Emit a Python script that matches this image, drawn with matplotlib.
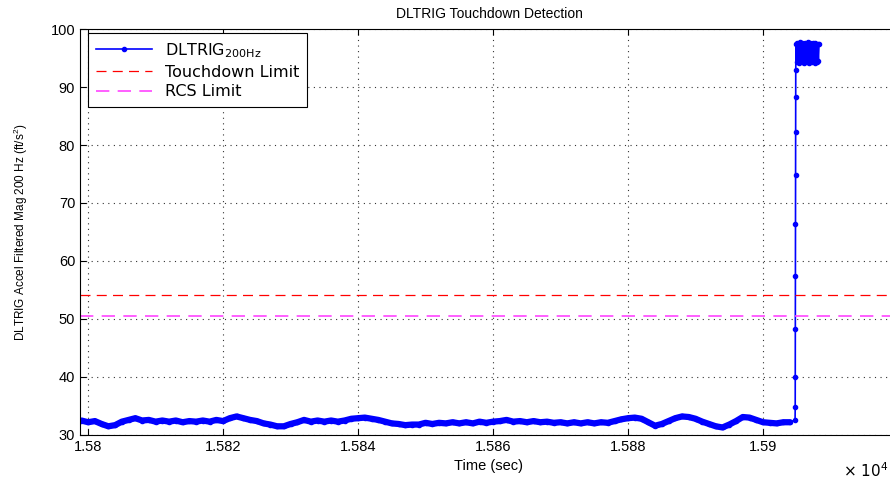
import matplotlib
matplotlib.use('Agg')
import matplotlib.pyplot as plt
import numpy as np
from matplotlib.ticker import FuncFormatter

plt.rcParams['font.family'] = ['Liberation Sans', 'DejaVu Sans']
plt.rcParams['font.size'] = 10

# DLTRIG 200 Hz filtered accel magnitude
base_time = np.arange(15799, 15905)
base_vals = [32.5, 32.2, 32.4, 31.9, 31.5, 31.7, 32.3, 32.6, 32.9, 32.5,
             32.6, 32.3, 32.5, 32.3, 32.5, 32.2, 32.4, 32.3, 32.5, 32.3,
             32.6, 32.4, 32.9, 33.2, 32.9, 32.6, 32.4, 32.0, 31.8, 31.5,
             31.5, 31.9, 32.2, 32.6, 32.3, 32.5, 32.3, 32.5, 32.3, 32.5,
             32.8, 32.9, 33.0, 32.8, 32.6, 32.3, 32.0, 31.9, 31.7, 31.8,
             31.8, 32.1, 31.9, 32.1, 32.0, 32.2, 32.0, 32.2, 32.0, 32.3,
             32.1, 32.3, 32.4, 32.6, 32.3, 32.4, 32.2, 32.4, 32.2, 32.3,
             32.1, 32.2, 32.0, 32.2, 32.0, 32.2, 32.0, 32.2, 32.1, 32.4,
             32.7, 32.9, 33.0, 32.8, 32.2, 31.6, 31.9, 32.4, 32.9, 33.2,
             33.1, 32.8, 32.3, 31.9, 31.5, 31.3, 31.8, 32.4, 33.1, 33.0,
             32.6, 32.2, 32.1, 32.0, 32.2, 32.2]

spike_time = [15904.75, 15904.77, 15904.78, 15904.79, 15904.80,
              15904.81, 15904.82, 15904.83, 15904.84, 15904.85]
spike_vals = [32.6, 34.8, 40.0, 48.3, 57.4, 66.4, 74.8, 82.2, 88.3, 93.0]

block_vals = [97.5, 94.3, 97.6, 94.4, 97.4, 94.2, 97.7, 94.5, 97.5, 94.3,
              97.6, 94.4, 97.3, 94.2, 97.6, 94.5, 97.5, 94.3, 97.7, 94.4,
              97.4, 94.2, 97.6, 94.5, 97.5, 94.3, 97.6, 94.4, 97.3, 94.2,
              97.6, 94.5, 97.5, 94.3, 97.4, 94.4, 97.5]
block_time = np.linspace(15904.9, 15908.3, len(block_vals))

touchdown_limit = 54.1
rcs_limit = 50.5

t = np.concatenate([base_time, spike_time, block_time])
v = np.concatenate([base_vals, spike_vals, block_vals])

fig = plt.figure(figsize=(8.9, 4.83), dpi=100)
ax = fig.add_axes([80 / 890, 48 / 483, 818 / 890, 406 / 483])

ax.plot(t, v, color='#0000ff', marker='.', markersize=6, linewidth=1.2,
        label='DLTRIG$_{\\mathregular{200Hz}}$')
# dense 200 Hz samples make the quiet part look like a thick band
ax.plot(base_time, base_vals, color='#0000ff', linewidth=4.5,
        solid_capstyle='round', solid_joinstyle='round')
ax.axhline(touchdown_limit, color='#ff0000', linestyle='--', dashes=(8, 5),
           linewidth=0.9, label='Touchdown Limit')
ax.axhline(rcs_limit, color='#ff44ff', linestyle='--', dashes=(8, 5),
           linewidth=1.2, label='RCS Limit')

ax.set_xlim(15798.8, 15920)
ax.set_ylim(30, 100)
ax.set_xticks(np.arange(15800, 15901, 20))
ax.set_yticks(np.arange(30, 101, 10))
ax.xaxis.set_major_formatter(FuncFormatter(lambda x, p: f'{x / 1e4:g}'))
ax.tick_params(direction='in', top=True, right=True, length=4, labelsize=10.5)
ax.grid(True, linestyle=(0, (1, 4)), color='#333333', linewidth=0.8)

ax.set_title('DLTRIG Touchdown Detection', fontsize=10, pad=8)
ax.set_xlabel('Time (sec)', fontsize=10.5, labelpad=4)
ax.set_ylabel('DLTRIG Accel Filtered Mag 200 Hz (ft/s$^{\\mathregular{2}}$)',
              fontsize=8.5, labelpad=15)
fig.text(843 / 890, 1 - 477 / 483, '× 10$^{\\mathregular{4}}$', fontsize=11,
         family='DejaVu Sans')

leg = ax.legend(loc='upper left', bbox_to_anchor=(0.01, 0.99), borderaxespad=0,
                handlelength=3.5, fancybox=False, framealpha=1,
                prop={'family': 'DejaVu Sans', 'size': 11.5},
                labelspacing=0.3, borderpad=0.5)
leg.get_frame().set_edgecolor('black')
leg.get_frame().set_linewidth(0.8)

fig.savefig('out.png', dpi=100)
